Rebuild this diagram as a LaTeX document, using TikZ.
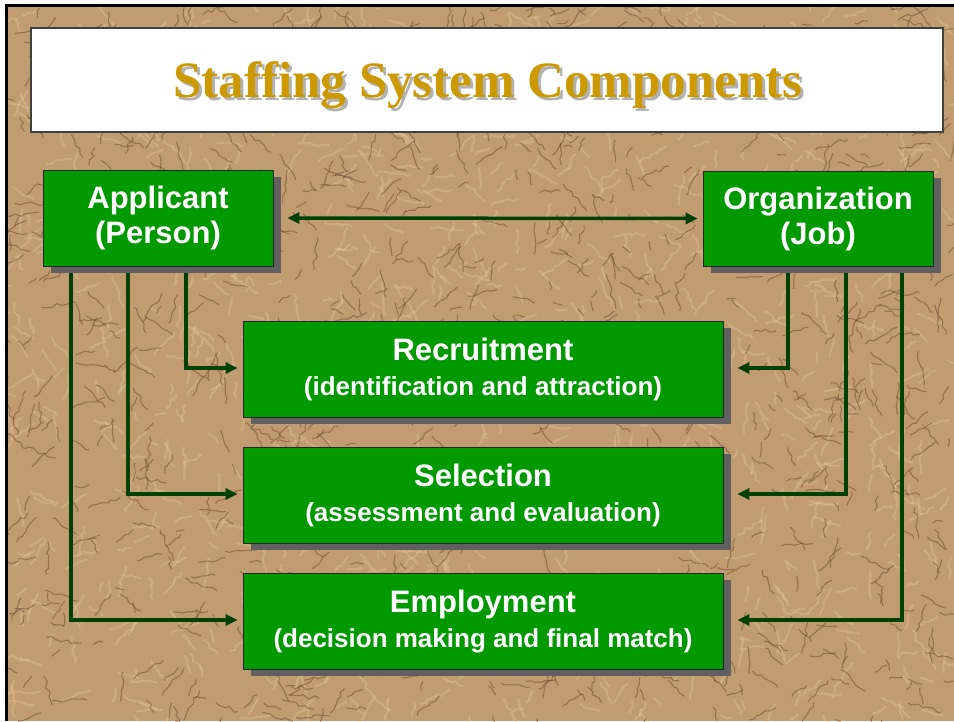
\documentclass[tikz,border=0pt]{standalone}
\usepackage{fontspec}
\setmainfont{Liberation Sans}
\newfontfamily\ktitlefont[Ligatures=CommonOff]{Liberation Serif}
\usetikzlibrary{arrows.meta,shadows,decorations.pathmorphing}
\definecolor{kgreen}{RGB}{0,153,0}
\definecolor{klink}{RGB}{0,64,0}
\definecolor{kshadow}{RGB}{96,96,96}
\definecolor{kpaper}{RGB}{192,156,112}
\definecolor{kcrease}{RGB}{108,74,42}
\definecolor{klight}{RGB}{228,200,156}
\definecolor{kgold}{RGB}{204,153,0}
\pgfdeclarelayer{paper}
\pgfdeclarelayer{links}
\pgfsetlayers{paper,links,main}
\newcommand{\kbig}{\fontsize{31}{35}\selectfont}
\newcommand{\ksmall}{\fontsize{26}{33}\selectfont}
\tikzset{
  box/.style={draw=black!85,line width=0.8pt,fill=kgreen,text=white,font=\bfseries\kbig,align=center,inner sep=0pt,
    drop shadow={shadow xshift=8pt,shadow yshift=-7pt,fill=kshadow,opacity=1}},
  bigbox/.style={box,minimum width=480pt,minimum height=96pt},
  link/.style={draw=klink,line width=3.5pt,>={Triangle[length=12pt,width=11pt]},->},
  crease/.style={decorate,decoration={random steps,segment length=5pt,amplitude=2pt}},
}
\begin{document}
\begin{tikzpicture}[x=1pt,y=-1pt]
\useasboundingbox (0,0) rectangle (954,721);
% crumpled paper backdrop
\begin{pgfonlayer}{paper}
\fill[white] (0,0) rectangle (954,721);
\fill[kpaper] (8,7) rectangle (954,721);
\begin{scope}
\clip (8,7) rectangle (954,721);
\pgfmathsetseed{11}
\foreach \i in {1,...,1000}{
  \pgfmathsetmacro{\kx}{rnd*954}\pgfmathsetmacro{\ky}{rnd*721}
  \pgfmathsetmacro{\ka}{rnd*360}\pgfmathsetmacro{\kl}{10+rnd*24}
  \draw[crease,klight,line width=2.2pt,opacity=0.35] (\kx,\ky) -- ++(\ka:\kl);
}
\foreach \i in {1,...,1000}{
  \pgfmathsetmacro{\kx}{rnd*954}\pgfmathsetmacro{\ky}{rnd*721}
  \pgfmathsetmacro{\ka}{rnd*360}\pgfmathsetmacro{\kl}{8+rnd*28}
  \draw[crease,kcrease,line width=1.1pt,opacity=0.5] (\kx,\ky) -- ++(\ka:\kl);
}
\end{scope}
\draw[black,line width=3pt] (6.5,4) -- (6.5,721) (5,5.5) -- (954,5.5);
\end{pgfonlayer}
% title
\node[draw=black!75,line width=1.2pt,fill=white,minimum width=912pt,minimum height=104pt,inner sep=0pt] (title) at (487,80) {};
\node[anchor=base,text=kgold,font=\ktitlefont\bfseries\fontsize{51}{55}\selectfont] (titletext) at (488,97)
  {\makebox[0pt][l]{\hspace{3pt}\raisebox{-3pt}{\color{black!30}Staffing System Components}}Staffing System Components};
% components
\node[box,minimum width=230pt,minimum height=96pt] (appl) at (158,218) {Applicant\\(Person)};
\node[box,minimum width=230pt,minimum height=95pt] (org) at (818,218.5) {Organization\\(Job)};
\node[bigbox] (recr) at (483,369) {\rule{0pt}{24pt}Recruitment\\{\ksmall (identification and attraction)}};
\node[bigbox] (sel) at (483,495) {\rule{0pt}{24pt}Selection\\{\ksmall (assessment and evaluation)}};
\node[bigbox] (empl) at (483,621) {\rule{0pt}{24pt}Employment\\{\ksmall (decision making and final match)}};
% connectors
\begin{pgfonlayer}{links}
\draw[link,<->] ([xshift=14pt]appl.east) -- ([xshift=-5pt]org.west);
\foreach \kdx/\kto in {28/recr,-30/sel,-87/empl}{\draw[link] ([xshift=\kdx pt]appl.south) |- ([xshift=-5pt,yshift=1pt]\kto.west);}
\foreach \kdx/\kto in {-30/recr,28/sel,84/empl}{\draw[link] ([xshift=\kdx pt]org.south) |- ([xshift=14pt,yshift=1pt]\kto.east);}
\end{pgfonlayer}
\end{tikzpicture}
\end{document}
